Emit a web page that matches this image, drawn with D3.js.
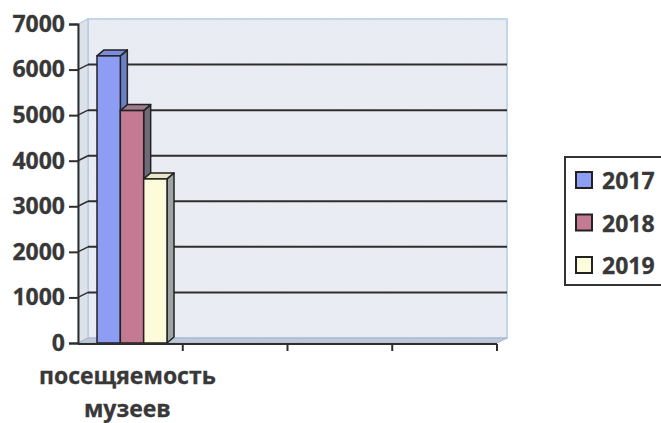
<!DOCTYPE html>
<html>
<head>
<meta charset="utf-8">
<script src="https://cdn.jsdelivr.net/npm/d3@7"></script>
<style>
  body { margin: 0; background: #fff; }
  text { font-family: "Open Sans", sans-serif; font-weight: 700; fill: #383838; stroke: #383838; stroke-width: 0.3px; }
</style>
</head>
<body>
<svg id="chart" width="661" height="423"></svg>
<script>
// data
const categories = ["посещяемость музеев", "c2", "c3", "c4"];
const years = ["2017", "2018", "2019"];
const visits = [6300, 5100, 3600];
const yTicks = [0, 1000, 2000, 3000, 4000, 5000, 6000, 7000];

const colors = {
  "2017": { front: "#8d9df4", side: "#6b80c4", top: "#7a8de0" },
  "2018": { front: "#c47a93", side: "#6e6a78", top: "#a07b8f" },
  "2019": { front: "#fdfcda", side: "#9ea3a3", top: "#e8e7c6" }
};

const svg = d3.select("#chart");

let y = d3.scaleLinear().domain([0, 7000]).range([343, 24]),
    x = d3.scaleBand().domain(categories).range([78, 497]);

// depth offsets for the 3d look
let wdx = 10, wdy = -5,   // back wall
    bdx = 7, bdy = -6;    // bars

let left = x.range()[0], right = x.range()[1],
    y0 = y(0), yTop = y(7000);

// noise filter for the scanned wall
let defs = svg.append("defs");
let filt = defs.append("filter").attr("id", "grain");
filt.append("feTurbulence").attr("type", "fractalNoise")
    .attr("baseFrequency", 0.9).attr("numOctaves", 2).attr("result", "n");
filt.append("feColorMatrix").attr("in", "n").attr("type", "matrix")
    .attr("values", "0 0 0 0 0.85  0 0 0 0 0.86  0 0 0 0 0.92  0 0 0 0.3 0")
    .attr("result", "c");
filt.append("feComposite").attr("in", "c").attr("in2", "SourceGraphic").attr("operator", "in");

function poly(pts) { return "M" + pts.map(p => p.join(",")).join("L") + "Z"; }

// back wall
let wall = svg.append("g").attr("class", "walls");
wall.append("path")
    .attr("d", poly([[left + wdx, yTop + wdy], [right + wdx, yTop + wdy], [right + wdx, y0 + wdy], [left + wdx, y0 + wdy]]))
    .attr("fill", "#e9ebf2").attr("stroke", "#b0c8e2").attr("stroke-width", 1.5);
wall.append("rect")
    .attr("x", left + wdx).attr("y", yTop + wdy)
    .attr("width", right - left).attr("height", y0 - yTop)
    .attr("fill", "#fff").attr("filter", "url(#grain)");

// side wall
wall.append("path")
    .attr("d", poly([[left, y0], [left, yTop], [left + wdx, yTop + wdy], [left + wdx, y0 + wdy]]))
    .attr("fill", "#dde2ea").attr("stroke", "#b0c8e2").attr("stroke-width", 1.2);

// floor
wall.append("path")
    .attr("d", poly([[left, y0], [right, y0], [right + wdx, y0 + wdy], [left + wdx, y0 + wdy]]))
    .attr("fill", "#bfc8d7").attr("stroke", "#a4b6cd").attr("stroke-width", 1);

// gridlines, back and side wall
let grid = svg.append("g").attr("class", "grid");
grid.selectAll("line.back")
    .data(yTicks.filter(d => d > 0 && d < 7000)).enter()
    .append("line").attr("class", "back")
    .attr("x1", left + wdx).attr("x2", right + wdx)
    .attr("y1", d => y(d) + wdy).attr("y2", d => y(d) + wdy)
    .attr("stroke", "#2e2e2e").attr("stroke-width", 2);
grid.selectAll("line.side")
    .data(yTicks.filter(d => d > 0 && d < 7000)).enter()
    .append("line").attr("class", "side")
    .attr("x1", left).attr("x2", left + wdx)
    .attr("y1", d => y(d)).attr("y2", d => y(d) + wdy)
    .attr("stroke", "#2e2e2e").attr("stroke-width", 1.5);

// bars
let xs = d3.scaleBand().domain(years)
    .range([x(categories[0]) + 19, x(categories[0]) + 89]);

let bars = svg.append("g").attr("class", "bars")
    .selectAll("g")
    .data(years.map((yr, i) => ({ year: yr, value: visits[i] })))
    .enter().append("g");

bars.each(function(d) {
  let g = d3.select(this),
      x1 = xs(d.year), x2 = x1 + xs.bandwidth(),
      yt = y(d.value), c = colors[d.year];
  g.append("path")
      .attr("d", poly([[x2, y0], [x2, yt], [x2 + bdx, yt + bdy], [x2 + bdx, y0 + bdy]]))
      .attr("fill", c.side).attr("stroke", "#222").attr("stroke-width", 1.5).attr("stroke-linejoin", "round");
  g.append("path")
      .attr("d", poly([[x1, yt], [x2, yt], [x2 + bdx, yt + bdy], [x1 + bdx, yt + bdy]]))
      .attr("fill", c.top).attr("stroke", "#222").attr("stroke-width", 1.5).attr("stroke-linejoin", "round");
  g.append("rect")
      .attr("x", x1).attr("y", yt)
      .attr("width", xs.bandwidth()).attr("height", y0 - yt)
      .attr("fill", c.front).attr("stroke", "#222").attr("stroke-width", 1.5);
});

// y axis
let yAxis = svg.append("g").attr("transform", "translate(" + left + ",0)")
    .call(d3.axisLeft(y).tickValues(yTicks).tickFormat(d3.format("d")).tickSize(9).tickPadding(4));
yAxis.select(".domain").attr("stroke", "#2e2e2e").attr("stroke-width", 2);
yAxis.selectAll(".tick line").attr("stroke", "#2e2e2e").attr("stroke-width", 2);
yAxis.selectAll(".tick text")
    .attr("font-size", 23).attr("font-family", null).attr("fill", "#383838");

// x axis, ticks between categories
svg.append("line")
    .attr("x1", left).attr("x2", right)
    .attr("y1", y0 + 1).attr("y2", y0 + 1)
    .attr("stroke", "#2e2e2e").attr("stroke-width", 2);
svg.selectAll("line.xtick")
    .data(categories.map(c => x(c) + x.bandwidth())).enter()
    .append("line").attr("class", "xtick")
    .attr("x1", d => d).attr("x2", d => d)
    .attr("y1", y0 + 1).attr("y2", y0 + 8)
    .attr("stroke", "#2e2e2e").attr("stroke-width", 2);

// category label
let catLabel = svg.append("text")
    .attr("text-anchor", "middle")
    .attr("font-size", 23);
catLabel.selectAll("tspan")
    .data(categories[0].split(" ")).enter()
    .append("tspan")
    .attr("x", x(categories[0]) + x.bandwidth() / 2 - 3)
    .attr("y", (d, i) => 384 + i * 33)
    .text(d => d);

// legend
let legend = svg.append("g").attr("class", "legend");
legend.append("rect")
    .attr("x", 565).attr("y", 157).attr("width", 120).attr("height", 128)
    .attr("fill", "#fff").attr("stroke", "#333").attr("stroke-width", 2);
let items = legend.selectAll("g.item")
    .data(years).enter()
    .append("g").attr("class", "item")
    .attr("transform", (d, i) => "translate(576," + (172 + i * 42.5) + ")");
items.append("rect")
    .attr("width", 16).attr("height", 16)
    .attr("fill", d => colors[d].front)
    .attr("stroke", "#222").attr("stroke-width", 2);
items.append("text")
    .attr("x", 26).attr("y", 17)
    .attr("font-size", 23)
    .text(d => d);
</script>
</body>
</html>
